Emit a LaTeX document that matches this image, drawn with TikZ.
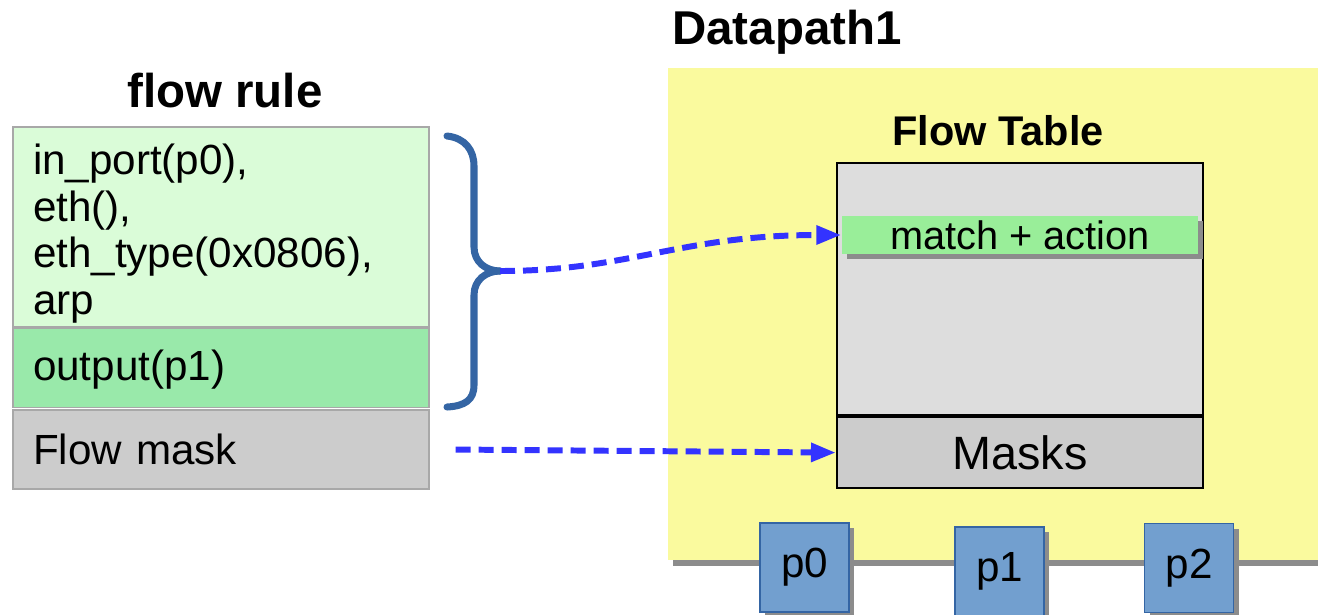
\documentclass[tikz,border=0pt]{standalone}
\usepackage{fontspec}
\setmainfont{Liberation Sans}
\usetikzlibrary{arrows.meta, positioning, shadows}
\definecolor{rulelight}{HTML}{DAFCD8}
\definecolor{ruleact}{HTML}{99E9AA}
\definecolor{maskgray}{HTML}{CCCCCC}
\definecolor{edgegray}{HTML}{A8A8A8}
\definecolor{dpyellow}{HTML}{FAFA9E}
\definecolor{tablegray}{HTML}{DDDDDD}
\definecolor{matchgreen}{HTML}{99EE99}
\definecolor{portblue}{HTML}{729FCF}
\definecolor{portedge}{HTML}{3465A4}
\definecolor{shadowgray}{HTML}{8C8C8C}
\definecolor{arrowblue}{HTML}{3333FF}
\tikzset{
	rulebox/.style={draw=edgegray, line width=0.4pt, minimum width=41.6mm, text width=37.6mm, inner xsep=2mm, inner ysep=0pt, align=left, font=\fontsize{12}{13.3}\selectfont},
	tablebox/.style={draw=black, line width=0.6pt, minimum width=36.6mm, inner sep=0pt},
	portbox/.style={draw=portedge, line width=0.3pt, fill=portblue, minimum size=8.9mm, inner sep=0pt, font=\fontsize{12}{14}\selectfont, drop shadow={shadow xshift=0.5mm, shadow yshift=-0.5mm, fill=shadowgray, opacity=1}},
	titletext/.style={font=\fontsize{13.5}{16}\selectfont\bfseries},
	flowarrow/.style={arrowblue, line width=1.7pt, dash pattern=on 1.5mm off 0.8mm, -{Triangle[length=2.5mm, width=1.8mm]}},
	bracestyle/.style={portedge, line width=2pt, line cap=round}
}
\begin{document}
\begin{tikzpicture}[x=0.1mm, y=-0.1mm]
	\useasboundingbox (0,0) rectangle (1318,614);
	\fill[shadowgray] (673,74) rectangle (1323,566);
	\fill[dpyellow] (668,68) rectangle (1318,560);
	\node[titletext] (dptitle) at (787,32) {Datapath1};
	\node[titletext] (ruletitle) at (225,91) {flow rule};
	\node[rulebox, fill=rulelight, minimum height=20mm] (rulematch) at (221,227) {\rule{0pt}{12.4pt}in\_port(p0),\\eth(),\\eth\_type(0x0806),\\arp};
	\node[rulebox, fill=ruleact, minimum height=7.9mm, below=0pt of rulematch] (ruleact) {\rule{0pt}{9.6pt}output(p1)};
	\node[rulebox, fill=maskgray, minimum height=7.9mm, below=0.1mm of ruleact] (rulemask) {Flow mask};
	\node[font=\fontsize{11.8}{14}\selectfont\bfseries] (tabletitle) at (998,131) {Flow Table};
	\node[tablebox, fill=tablegray, minimum height=25.2mm] (table) at (1020,289) {};
	\node[tablebox, fill=maskgray, minimum height=7.1mm, below=0pt of table, font=\fontsize{13.3}{16}\selectfont] (masks) {Masks};
	\node[fill=matchgreen, minimum width=35.6mm, minimum height=3.8mm, inner sep=0pt, font=\fontsize{11.3}{13}\selectfont, drop shadow={shadow xshift=0.5mm, shadow yshift=-0.5mm, fill=shadowgray, opacity=1}] (match) at (1020,235) {match + action};
	\node[portbox] (p0) at (804.5,567.5) {p0};
	\node[portbox] (p1) at (999.5,571.5) {p1};
	\node[portbox] (p2) at (1189,568) {p2};
	\coordinate (bracetip) at (500,271);
	\draw[bracestyle] (447,136) .. controls (465,138) and (474,150) .. (474,166) -- (474,247) .. controls (474,262) and (486,271) .. (bracetip);
	\draw[bracestyle] (bracetip) .. controls (486,271) and (474,280) .. (474,295) -- (474,385) .. controls (474,400) and (465,406) .. (447,407);
	\draw[flowarrow] (bracetip) .. controls (630,271) and (680,235) .. (match.west);
	\draw[flowarrow, shorten <=2.6mm] (rulemask.east) -- (masks.west);
\end{tikzpicture}
\end{document}
